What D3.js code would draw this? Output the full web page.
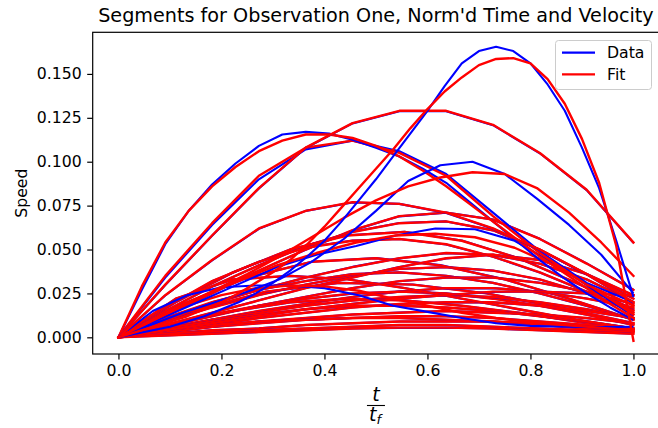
<!DOCTYPE html>
<html><head><meta charset="utf-8">
<script src="https://cdn.jsdelivr.net/npm/d3@7"></script>
<style>
body{margin:0;background:#fff;}
text{font-family:"DejaVu Sans",sans-serif;fill:#000;}
</style></head>
<body><svg id="chart" width="658" height="428"></svg>
<script>
// Each segment: speed samples over normalized time t/tf = i/(n-1)
const dataSegments = [
  [0,0.0121,0.0251,0.0380,0.0499,0.0609,0.0689,0.0710,0.0671,0.0561,0.0421,0.0271],
  [0,0.0149,0.0289,0.0410,0.0520,0.0601,0.0651,0.0660,0.0609,0.0499,0.0360,0.0221],
  [0,0.0199,0.0369,0.0500,0.0581,0.0601,0.0551,0.0450,0.0309,0.0159],
  [0,0.0169,0.0319,0.0430,0.0511,0.0551,0.0560,0.0529,0.0459,0.0369,0.0260,0.0141],
  [0,0.0100,0.0191,0.0271,0.0341,0.0401,0.0450,0.0479,0.0469,0.0419,0.0329,0.0201],
  [0,0.0189,0.0339,0.0430,0.0451,0.0411,0.0330,0.0219,0.0101],
  [0,0.0090,0.0171,0.0241,0.0301,0.0350,0.0389,0.0400,0.0380,0.0329,0.0249,0.0151],
  [0,0.0109,0.0199,0.0270,0.0321,0.0360,0.0370,0.0351,0.0310,0.0249,0.0179,0.0100],
  [0,0.0060,0.0121,0.0181,0.0231,0.0280,0.0319,0.0340,0.0341,0.0311,0.0260,0.0189],
  [0,0.0149,0.0259,0.0310,0.0301,0.0251,0.0170,0.0081],
  [0,0.0050,0.0101,0.0150,0.0191,0.0230,0.0260,0.0279,0.0280,0.0260,0.0221,0.0170],
  [0,0.0070,0.0129,0.0180,0.0220,0.0249,0.0260,0.0250,0.0221,0.0180,0.0129,0.0070],
  [0,0.0050,0.0100,0.0141,0.0180,0.0210,0.0230,0.0240,0.0229,0.0200,0.0160,0.0111],
  [0,0.0080,0.0149,0.0199,0.0220,0.0211,0.0180,0.0139,0.0090,0.0041],
  [0,0.0040,0.0071,0.0110,0.0140,0.0170,0.0190,0.0200,0.0199,0.0180,0.0150,0.0109],
  [0,0.0050,0.0091,0.0130,0.0160,0.0179,0.0180,0.0170,0.0150,0.0120,0.0089,0.0050],
  [0,0.0030,0.0060,0.0089,0.0110,0.0130,0.0141,0.0150,0.0140,0.0130,0.0109,0.0080],
  [0,0.0030,0.0059,0.0080,0.0100,0.0110,0.0120,0.0120,0.0110,0.0090,0.0070,0.0049],
  [0,0.0040,0.0070,0.0090,0.0101,0.0110,0.0110,0.0100,0.0090,0.0070,0.0050,0.0030],
  [0,0.0020,0.0040,0.0051,0.0070,0.0080,0.0090,0.0090,0.0089,0.0080,0.0060,0.0040],
  [0,0.0020,0.0030,0.0041,0.0050,0.0060,0.0070,0.0070,0.0060,0.0050,0.0040,0.0030],
  [0,0.0010,0.0020,0.0030,0.0040,0.0050,0.0054,0.0055,0.0050,0.0040,0.0030,0.0020],
  [0,0.0219,0.0329,0.0350,0.0331,0.0281,0.0220,0.0159,0.0100,0.0051],
  [0,0.0070,0.0140,0.0211,0.0281,0.0341,0.0400,0.0449,0.0470,0.0441,0.0361,0.0239],
  [0,0.0040,0.0080,0.0120,0.0160,0.0191,0.0220,0.0240,0.0259,0.0260,0.0250,0.0239],
  [0,0.015,0.024,0.0285,0.0295,0.0295,0.028,0.024,0.018,0.0145,0.011,0.008,0.0065,0.006,0.0058,0.006],
  [0,0.010,0.020,0.030,0.040,0.047,0.052,0.058,0.062,0.0615,0.055,0.042,0.027,0.012],
  [0,0.034,0.064,0.090,0.107,0.112,0.106,0.093,0.071,0.049,0.031,0.020],
  [0,0.027,0.053,0.072,0.087,0.099,0.109,0.1155,0.117,0.116,0.1125,0.108,0.103,0.096,0.088,0.077,0.066,0.055,0.044,0.034,0.025,0.017,0.010],
  [0,0.0298,0.0578,0.0848,0.1078,0.1218,0.1288,0.1288,0.1208,0.1048,0.0838,0.0538],
  [0,0.0238,0.0438,0.0618,0.0720,0.0768,0.0760,0.0708,0.0618,0.0498,0.0358,0.0198],
  [0,0.007,0.014,0.020,0.026,0.033,0.043,0.056,0.072,0.089,0.098,0.100,0.093,0.079,0.064,0.047,0.025],
  [0,0.002,0.004,0.006,0.009,0.012,0.016,0.020,0.025,0.031,0.038,0.046,0.055,0.066,0.078,0.090,0.103,0.116,0.129,0.143,0.156,0.163,0.1655,0.163,0.156,0.144,0.129,0.108,0.085,0.055,0.023]
];
const fitSegments = [
  [0,0.012,0.025,0.038,0.050,0.061,0.069,0.071,0.067,0.056,0.042,0.027],
  [0,0.015,0.029,0.041,0.052,0.060,0.065,0.066,0.061,0.050,0.036,0.022],
  [0,0.020,0.037,0.050,0.058,0.060,0.055,0.045,0.031,0.016],
  [0,0.017,0.032,0.043,0.051,0.055,0.056,0.053,0.046,0.037,0.026,0.014],
  [0,0.010,0.019,0.027,0.034,0.040,0.045,0.048,0.047,0.042,0.033,0.020],
  [0,0.019,0.034,0.043,0.045,0.041,0.033,0.022,0.010],
  [0,0.009,0.017,0.024,0.030,0.035,0.039,0.040,0.038,0.033,0.025,0.015],
  [0,0.011,0.020,0.027,0.032,0.036,0.037,0.035,0.031,0.025,0.018,0.010],
  [0,0.006,0.012,0.018,0.023,0.028,0.032,0.034,0.034,0.031,0.026,0.019],
  [0,0.015,0.026,0.031,0.030,0.025,0.017,0.008],
  [0,0.005,0.010,0.015,0.019,0.023,0.026,0.028,0.028,0.026,0.022,0.017],
  [0,0.007,0.013,0.018,0.022,0.025,0.026,0.025,0.022,0.018,0.013,0.007],
  [0,0.005,0.010,0.014,0.018,0.021,0.023,0.024,0.023,0.020,0.016,0.011],
  [0,0.008,0.015,0.020,0.022,0.021,0.018,0.014,0.009,0.004],
  [0,0.004,0.007,0.011,0.014,0.017,0.019,0.020,0.020,0.018,0.015,0.011],
  [0,0.005,0.009,0.013,0.016,0.018,0.018,0.017,0.015,0.012,0.009,0.005],
  [0,0.003,0.006,0.009,0.011,0.013,0.014,0.015,0.014,0.013,0.011,0.008],
  [0,0.003,0.006,0.008,0.010,0.011,0.012,0.012,0.011,0.009,0.007,0.005],
  [0,0.004,0.007,0.009,0.010,0.011,0.011,0.010,0.009,0.007,0.005,0.003],
  [0,0.002,0.004,0.005,0.007,0.008,0.009,0.009,0.009,0.008,0.006,0.004],
  [0,0.002,0.003,0.004,0.005,0.006,0.007,0.007,0.006,0.005,0.004,0.003],
  [0,0.001,0.002,0.003,0.004,0.005,0.0055,0.0055,0.005,0.004,0.003,0.002],
  [0,0.022,0.033,0.035,0.033,0.028,0.022,0.016,0.010,0.005],
  [0,0.007,0.014,0.021,0.028,0.034,0.040,0.045,0.047,0.044,0.036,0.024],
  [0,0.004,0.008,0.012,0.016,0.019,0.022,0.024,0.026,0.026,0.025,0.024],
  [0,0.010,0.018,0.024,0.028,0.0295,0.029,0.0265,0.022,0.018,0.014,0.011,0.0085,0.007,0.0055,0.004],
  [0,0.011,0.022,0.032,0.041,0.048,0.054,0.058,0.059,0.057,0.051,0.041,0.028,0.013],
  [0,0.035,0.065,0.092,0.108,0.112,0.105,0.092,0.069,0.048,0.030,0.018],
  [0,0.029,0.054,0.072,0.086,0.097,0.106,0.112,0.1155,0.1155,0.1135,0.109,0.103,0.095,0.086,0.076,0.066,0.056,0.046,0.037,0.028,0.019,0.011],
  [0,0.030,0.058,0.085,0.108,0.122,0.129,0.129,0.121,0.105,0.084,0.054],
  [0,0.024,0.044,0.062,0.072,0.077,0.076,0.071,0.062,0.050,0.036,0.020],
  [0,0.009,0.018,0.027,0.036,0.046,0.057,0.068,0.078,0.086,0.091,0.094,0.093,0.085,0.071,0.054,0.035],
  [0,0.003,0.006,0.009,0.012,0.016,0.020,0.025,0.031,0.037,0.044,0.053,0.063,0.074,0.085,0.096,0.107,0.119,0.130,0.140,0.148,0.155,0.1585,0.159,0.156,0.147,0.133,0.113,0.088,0.052,-0.002]
];
const xTicks = [0.0,0.2,0.4,0.6,0.8,1.0];
const yTicks = [0.000,0.025,0.050,0.075,0.100,0.125,0.150];
const legendLabels = ["Data","Fit"];
const seriesColors = ["#0000ff","#ff0000"];
const titleText = "Segments for Observation One, Norm'd Time and Velocity";
const yLabelText = "Speed";

const svg = d3.select("#chart");
const L = 92.7, R = 659.2, T = 32.3, B = 354;
const x = d3.scaleLinear().domain([-0.05,1.05]).range([L,R]);
const y = d3.scaleLinear().domain([-0.0095,0.1737]).range([B,T]);
const FS = 15.7;

svg.append("defs").append("clipPath").attr("id","clip")
  .append("rect").attr("x",L).attr("y",T).attr("width",R-L).attr("height",B-T);

const line = d3.line().x(d=>x(d.t)).y(d=>y(d.v));
const toPts = arr => arr.map((v,i)=>({t:i/(arr.length-1), v}));

const g = svg.append("g").attr("clip-path","url(#clip)");
dataSegments.forEach((seg,k)=>{
  g.append("path").attr("d",line(toPts(seg))).attr("fill","none")
    .attr("stroke",seriesColors[0]).attr("stroke-width",2.1).attr("stroke-linejoin","round").attr("stroke-linecap","butt");
  g.append("path").attr("d",line(toPts(fitSegments[k]))).attr("fill","none")
    .attr("stroke",seriesColors[1]).attr("stroke-width",2.4).attr("stroke-linejoin","round").attr("stroke-linecap","square");
});

// axes
const xAxis = d3.axisBottom(x).tickValues(xTicks).tickFormat(d3.format(".1f")).tickSizeOuter(0).tickSize(5.5).tickPadding(5.5);
const yAxis = d3.axisLeft(y).tickValues(yTicks).tickFormat(d3.format(".3f")).tickSizeOuter(0).tickSize(5.5).tickPadding(5.5);
const gx = svg.append("g").attr("transform",`translate(0,${B})`).call(xAxis);
const gy = svg.append("g").attr("transform",`translate(${L},0)`).call(yAxis);
[gx,gy].forEach(a=>{
  a.select(".domain").remove();
  a.selectAll(".tick line").attr("stroke","#000").attr("stroke-width",1.2);
  a.selectAll(".tick text").style("font-family","DejaVu Sans").style("font-size",FS+"px").attr("fill","#000");
});
// spines
svg.append("rect").attr("x",L).attr("y",T).attr("width",R-L).attr("height",B-T)
  .attr("fill","none").attr("stroke","#000").attr("stroke-width",1.2);

// title
svg.append("text").attr("x",(L+R)/2).attr("y",22).attr("text-anchor","middle")
  .style("font-size","19.2px").text(titleText);
// y label
svg.append("text").attr("transform",`translate(27,${(T+B)/2}) rotate(-90)`).attr("text-anchor","middle")
  .style("font-size",FS+"px").text(yLabelText);
// x label t / t_f
const cx = (L+R)/2;
const xl = svg.append("g");
xl.append("text").attr("x",cx).attr("y",401).attr("text-anchor","middle")
  .style("font-size","19px").style("font-style","italic").text("t");
xl.append("line").attr("x1",cx-9).attr("x2",cx+9).attr("y1",405.5).attr("y2",405.5).attr("stroke","#000").attr("stroke-width",1.1);
const tf = xl.append("text").attr("x",cx-1).attr("y",421).attr("text-anchor","middle")
  .style("font-size","19px").style("font-style","italic");
tf.append("tspan").text("t");
tf.append("tspan").attr("dy",3).style("font-size","13px").text("f");

// legend
const lg = svg.append("g");
lg.append("rect").attr("x",555.5).attr("y",40.5).attr("width",96).attr("height",49).attr("rx",3)
  .attr("fill","#fff").attr("fill-opacity",0.8).attr("stroke","#ccc").attr("stroke-width",1);
legendLabels.forEach((lab,i)=>{
  const yy = 52.7 + i*21.6;
  lg.append("line").attr("x1",562).attr("x2",595).attr("y1",yy).attr("y2",yy)
    .attr("stroke",seriesColors[i]).attr("stroke-width",2.3);
  lg.append("text").attr("x",607).attr("y",yy+5.5).style("font-size",FS+"px").text(lab);
});
</script></body></html>
